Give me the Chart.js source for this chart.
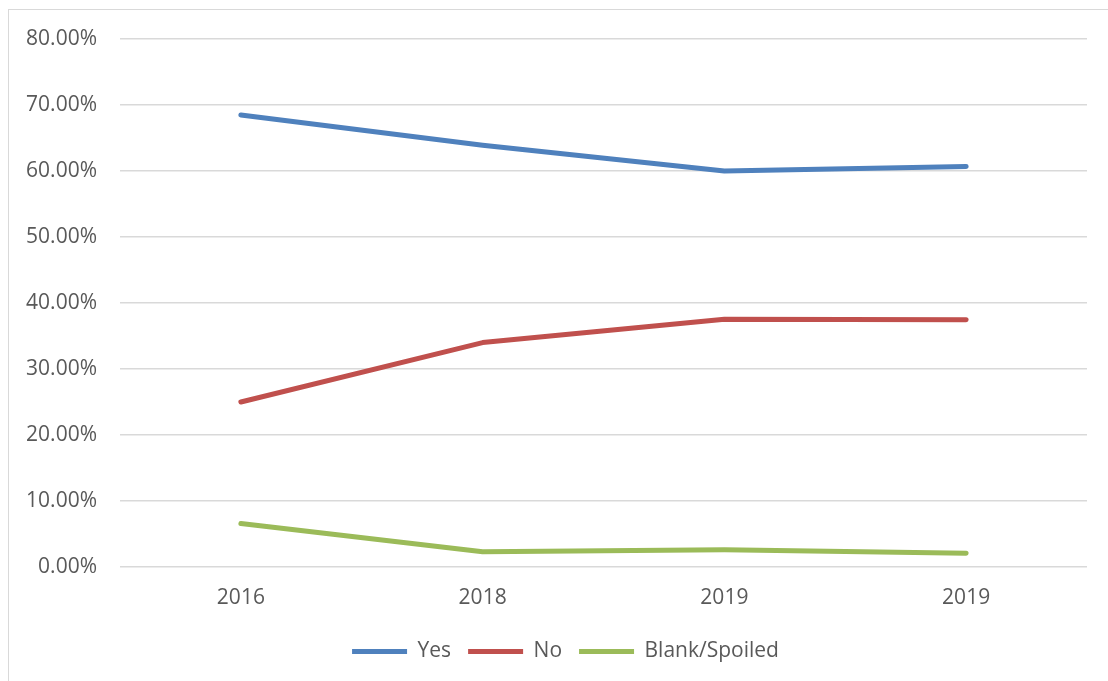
<!DOCTYPE html>
<html>
<head>
<meta charset="utf-8">
<title>Referendum results</title>
<script src="https://cdn.jsdelivr.net/npm/chart.js@4/dist/chart.umd.min.js"></script>
<style>
    html, body { margin: 0; padding: 0; background: #fff; overflow: hidden; }
    #frame {
        position: absolute; left: 8px; top: 9px; width: 1200px; height: 800px;
        border-left: 1.5px solid #d9d9d9; border-top: 1.5px solid #d9d9d9;
    }
    #wrap { position: absolute; left: 0; top: 0; width: 1108px; height: 681px; }
</style>
</head>
<body>
<div id="frame"></div>
<div id="wrap"><canvas id="myChart"></canvas></div>
<script>
// Years polled (the last two were both in 2019)
var years = ['2016', '2018', '2019', '2019'];

// Share of votes, in percent
var yesShare = [68.5, 63.9, 60.0, 60.7];
var noShare = [25.0, 34.0, 37.55, 37.45];
var blankShare = [6.6, 2.3, 2.6, 2.1];

// Y axis range and step
var yMin = 0;
var yMax = 80;
var yStep = 10;

var canvasId = 'myChart';
var textColor = '#595959';
var fontFamily = '"Open Sans", "Liberation Sans", sans-serif';

// Nudges the legend a little right of the canvas centre
var legendShift = {
    id: 'legendShift',
    afterLayout: function (chart) {
        if (chart.legend) {
            chart.legend.left += 22;
            chart.legend.right += 22;
        }
    }
};

function makeDataset(label, values, color) {
    return {
        label: label,
        data: values,
        borderColor: color,
        backgroundColor: color,
        borderWidth: 5,
        borderCapStyle: 'round',
        borderJoinStyle: 'round',
        pointRadius: 0,
        pointHoverRadius: 0,
        pointStyle: 'line',
        tension: 0,
        fill: false
    };
}

function createChart(datasets, labels, canvasId) {
    let ctx = document.getElementById(canvasId).getContext('2d');
    let chart = new Chart(ctx, {
        type: 'line',
        data: {
            labels: labels,
            datasets: datasets
        },
        plugins: [legendShift],
        options: {
            animation: false,
            responsive: true,
            maintainAspectRatio: false,
            layout: {
                padding: { left: 0, right: 21, top: 39, bottom: 9 }
            },
            plugins: {
                tooltip: { enabled: false },
                legend: {
                    position: 'bottom',
                    labels: {
                        usePointStyle: true,
                        pointStyleWidth: 55,
                        padding: 17,
                        color: textColor,
                        font: { family: fontFamily, size: 21 }
                    }
                }
            },
            scales: {
                x: {
                    offset: true,
                    // fixed height keeps the plot bottom and the legend in place
                    afterFit: function (scale) { scale.height = 57; },
                    grid: { display: false, drawTicks: false },
                    border: { display: false },
                    ticks: {
                        color: textColor,
                        padding: 18,
                        font: { family: fontFamily, size: 21 }
                    }
                },
                y: {
                    min: yMin,
                    max: yMax,
                    afterFit: function (scale) { scale.width = 120; },
                    grid: { color: '#d9d9d9', lineWidth: 1.5, drawTicks: false },
                    border: { display: false },
                    ticks: {
                        stepSize: yStep,
                        color: textColor,
                        padding: 23,
                        font: { family: fontFamily, size: 21 },
                        callback: function (value) { return value.toFixed(2) + '%'; }
                    }
                }
            }
        }
    });
    return chart;
}

var datasets = [
    makeDataset('Yes', yesShare, '#4f81bd'),
    makeDataset('No', noShare, '#c0504d'),
    makeDataset('Blank/Spoiled', blankShare, '#9bbb59')
];
var chart = createChart(datasets, years, canvasId);
</script>
</body>
</html>
